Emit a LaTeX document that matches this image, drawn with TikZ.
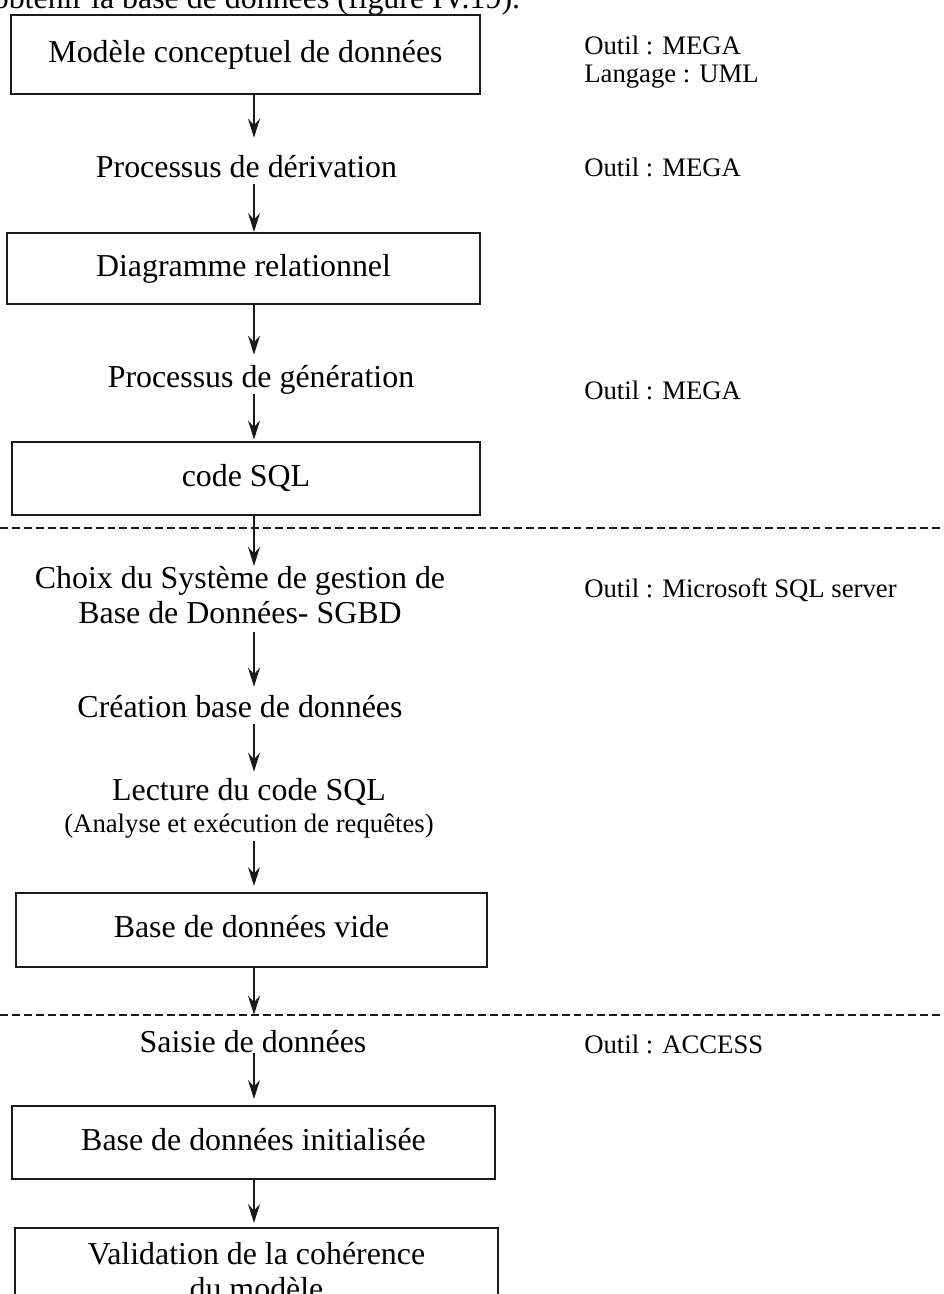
\documentclass[tikz,border=0pt]{standalone}
\usepackage{fontspec}
\setmainfont{Liberation Serif}
\definecolor{traitNoir}{HTML}{1A1A1A}
\usetikzlibrary{
	arrows.meta,
	positioning
}
\newcommand{\grandtexte}{\fontsize{18.15}{19.9}\selectfont}
\newcommand{\petittexte}{\fontsize{15.2}{15.9}\selectfont}

\begin{document}
\begin{tikzpicture}[
		boite/.style={draw=traitNoir, line width=1.1pt, font=\grandtexte, inner sep=0pt, text height=0.44cm, text depth=0.13cm},
		etape/.style={font=\grandtexte, inner sep=0pt, text height=0.44cm, text depth=0.13cm},
		note/.style={font=\petittexte, inner sep=0pt, text height=0.37cm, text depth=0.12cm},
		outil/.style={font=\petittexte, anchor=west, align=left, inner sep=0pt},
		fleche/.style={draw=traitNoir, line width=0.9pt, -{Stealth[length=3.8mm,width=2.4mm,inset=1.3mm]}},
		coupure/.style={draw=traitNoir, line width=0.8pt, dash pattern=on 4.5pt off 2.3pt}
	]
		\useasboundingbox (0,0) rectangle (18.88,-25.88);
		
		% Texte coupé en haut
		\node[font=\grandtexte, anchor=base west, inner sep=0pt] (intro) at (-0.15,-0.16) {obtenir la base de données (figure IV.19).};
		
		% Axe des flèches
		\coordinate (axe) at (5.08,0);
		
		% Conception
		\node[boite, minimum width=9.38cm, minimum height=1.58cm] (mcd) at (4.91,-1.09) {Modèle conceptuel de données};
		\node[etape] (derivation) at (4.93,-3.395) {Processus de dérivation};
		\node[boite, minimum width=9.46cm, minimum height=1.42cm] (relationnel) at (4.87,-5.37) {Diagramme relationnel};
		\node[etape] (generation) at (5.22,-7.595) {Processus de génération};
		\node[boite, minimum width=9.36cm, minimum height=1.46cm] (sql) at (4.92,-9.57) {code SQL};
		
		% Implantation
		\node[font=\grandtexte, align=center, inner sep=0pt] (sgbd) at (4.8,-11.9) {Choix du Système de gestion de\\Base de Données- SGBD};
		\node[etape] (creation) at (4.8,-14.195) {Création base de données};
		\node[etape] (lecture) at (4.98,-15.855) {Lecture du code SQL};
		\node[note, below=0.13cm of lecture] (analyse) {(Analyse et exécution de requêtes)};
		\node[boite, minimum width=9.42cm, minimum height=1.48cm] (vide) at (5.03,-18.6) {Base de données vide};
		
		% Chargement
		\node[etape] (saisie) at (5.06,-20.895) {Saisie de données};
		\node[boite, minimum width=9.66cm, minimum height=1.46cm] (initialisee) at (5.07,-22.85) {Base de données initialisée};
		\node[draw=traitNoir, line width=1.1pt, font=\grandtexte, align=center, anchor=north, inner xsep=0pt, inner ysep=0.28cm, minimum width=9.66cm] (validation) at (5.13,-24.54) {Validation de la cohérence\\du modèle};
		
		% Outils
		\node[outil] (outilMcd) at (11.68,-1.25) {Outil : MEGA\\Langage : UML};
		\node[outil] (outilDerivation) at (11.68,-3.34) {Outil : MEGA};
		\node[outil] (outilGeneration) at (11.68,-7.8) {Outil : MEGA};
		\node[outil] (outilSgbd) at (11.68,-11.8) {Outil : Microsoft SQL server};
		\node[outil] (outilSaisie) at (11.68,-20.88) {Outil : ACCESS};
		
		% Séparations
		\draw[coupure] (0,-10.56) -- (18.88,-10.56);
		\draw[coupure] (0,-20.3) -- (18.88,-20.3);
		
		% Flèches
		\draw[fleche, shorten >=0.35cm] (mcd.south -| axe) -- (derivation.north -| axe);
		\draw[fleche] (derivation.south -| axe) -- (relationnel.north -| axe);
		\draw[fleche, shorten >=0.21cm] (relationnel.south -| axe) -- (generation.north -| axe);
		\draw[fleche, shorten >=0.03cm] (generation.south -| axe) -- (sql.north -| axe);
		\draw[fleche] (sql.south -| axe) -- (sgbd.north -| axe);
		\draw[fleche, shorten <=0.16cm, shorten >=0.17cm] (sgbd.south -| axe) -- (creation.north -| axe);
		\draw[fleche, shorten >=0.13cm] (creation.south -| axe) -- (lecture.north -| axe);
		\draw[fleche, shorten <=0.04cm, shorten >=0.12cm] (analyse.south -| axe) -- (vide.north -| axe);
		\draw[fleche, shorten >=0.31cm] (vide.south -| axe) -- (saisie.north -| axe);
		\draw[fleche, shorten <=-0.12cm, shorten >=0.12cm] (saisie.south -| axe) -- (initialisee.north -| axe);
		\draw[fleche, shorten >=0.08cm] (initialisee.south -| axe) -- (validation.north -| axe);
		
	\end{tikzpicture}
\end{document}
